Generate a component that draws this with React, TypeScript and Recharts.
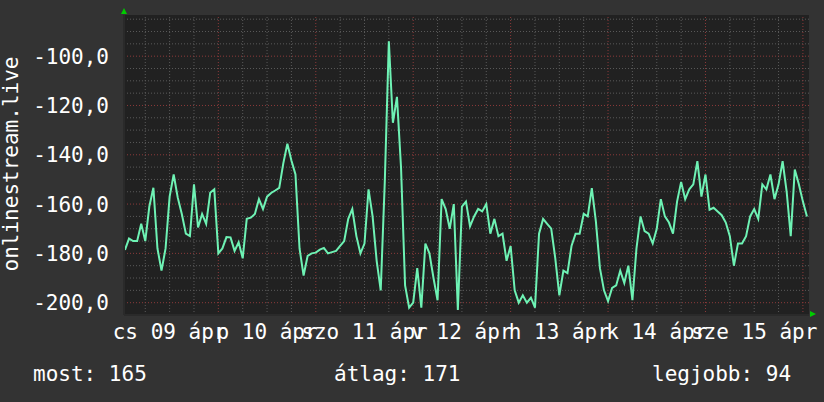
import { LineChart, Line, XAxis, YAxis, ReferenceLine, ReferenceArea } from "recharts";

// hourly samples, first sample at 09 ápr 01:00
const values = [
  -178.6, -174, -175, -175, -168, -175, -161, -153.4, -178, -187,
  -178, -157, -148, -157.4, -164, -172, -173, -152, -169.5, -164,
  -168, -155.4, -154, -180, -178, -173.4, -173.5, -179, -175.5, -182,
  -166, -165.5, -164, -158, -162, -157, -155.5, -154.5, -153.4, -143.5,
  -135.5, -142.3, -148, -178, -189, -181, -180, -179.7, -178.5, -177.8,
  -180, -179.5, -179, -177, -175, -166, -162, -173, -180, -176,
  -154, -165, -183, -195, -151, -94, -127, -116.5, -145, -193,
  -202, -200, -186, -202, -176, -180, -190, -199, -158, -162,
  -170, -160, -203, -161, -159, -169, -165, -162, -163, -160,
  -172, -166, -173, -172, -183, -177, -195, -200, -197, -200,
  -198, -202, -172, -166, -168, -170, -182, -197, -187, -188,
  -177, -172, -172, -164, -165, -153.5, -167, -186, -195, -199.4,
  -194, -193, -187, -192, -185, -199, -178, -165, -171, -172,
  -176, -170, -158, -165, -167.5, -172, -159, -151, -158, -154,
  -152, -142.6, -157, -148, -162.3, -161.5, -163, -164.5, -167.5, -173,
  -185, -176, -176, -173, -165, -162, -166, -152, -154, -148,
  -158, -152, -142.6, -155, -173, -146, -152, -159, -165,
];

const dayTicks = [12, 36, 60, 84, 108, 132, 156];
const dayLabels = ["cs 09 ápr", "p 10 ápr", "szo 11 ápr", "v 12 ápr", "h 13 ápr", "k 14 ápr", "sze 15 ápr"];
const yTicks = [-200, -180, -160, -140, -120, -100];
const majorX = [24, 48, 72, 96, 120, 144, 168];
const minorX = [6, 12, 18, 30, 36, 42, 54, 60, 66, 78, 84, 90, 102, 108, 114, 126, 132, 138, 150, 156, 162];
const majorY = [-200, -180, -160, -140, -120, -100];
const minorY = [-205, -195, -190, -185, -175, -170, -165, -155, -150, -145, -135, -130, -125, -115, -110, -105, -95, -90, -85];

const legend = [
  { text: "most: 165", x: 33 },
  { text: "átlag: 171", x: 334 },
  { text: "legjobb: 94", x: 652 },
];

const data = values.map((v, i) => ({ h: i + 1, v }));

const FONT = "DejaVu Sans Mono";
const X_DOMAIN = [0.76, 169.5];
const Y_DOMAIN = [-205, -83.3];

export default function App() {
  return (
    <div style={{ position: "absolute", left: 0, top: 0, width: 824, height: 402, background: "#333333" }}>
      <LineChart width={824} height={402} data={data} margin={{ top: 15, right: 15, left: 0, bottom: 57 }}>
        <XAxis
          dataKey="h"
          type="number"
          domain={X_DOMAIN}
          allowDataOverflow
          ticks={dayTicks}
          tickFormatter={(h: number) => dayLabels[dayTicks.indexOf(h)]}
          height={30}
          tickLine={false}
          tickSize={0}
          tickMargin={9}
          axisLine={{ stroke: "#2a2a2a", strokeWidth: 2 }}
          tick={{ fill: "#ffffff", fontSize: 21, fontFamily: FONT }}
          interval={0}
        />
        <YAxis
          type="number"
          domain={Y_DOMAIN}
          allowDataOverflow
          ticks={yTicks}
          width={124}
          tickLine={false}
          tickSize={0}
          tickMargin={15}
          axisLine={{ stroke: "#2a2a2a", strokeWidth: 2 }}
          tick={{ fill: "#ffffff", fontSize: 21, fontFamily: FONT }}
          tickFormatter={(v: number) => v.toFixed(1).replace(".", ",")}
          interval={0}
        />
        <ReferenceArea x1={X_DOMAIN[0]} x2={X_DOMAIN[1]} y1={Y_DOMAIN[0]} y2={Y_DOMAIN[1]} fill="#212121" fillOpacity={1} stroke="none" />
        {minorY.map((y) => (
          <ReferenceLine key={"my" + y} y={y} stroke="#5a5a5a" strokeDasharray="1 2" />
        ))}
        {minorX.map((x) => (
          <ReferenceLine key={"mx" + x} x={x} stroke="#5a5a5a" strokeDasharray="1 2" />
        ))}
        {majorY.map((y) => (
          <ReferenceLine key={"My" + y} y={y} stroke="#8c3a3a" strokeDasharray="1 2" />
        ))}
        {majorX.map((x) => (
          <ReferenceLine key={"Mx" + x} x={x} stroke="#8c3a3a" strokeDasharray="1 2" />
        ))}
        <Line
          dataKey="v"
          type="linear"
          stroke="#6ef2b4"
          strokeWidth={2}
          dot={false}
          isAnimationActive={false}
        />
      </LineChart>
      <svg width={824} height={402} style={{ position: "absolute", left: 0, top: 0, pointerEvents: "none" }}>
        <text
          x={18}
          y={164}
          transform="rotate(-90, 18, 164)"
          textAnchor="middle"
          fill="#ffffff"
          fontSize={21}
          fontFamily={FONT}
        >
          onlinestream.live
        </text>
        {legend.map((l) => (
          <text key={l.text} x={l.x} y={381} fill="#ffffff" fontSize={21} fontFamily={FONT}>
            {l.text}
          </text>
        ))}
        <polygon points="121,14 127,14 124,8" fill="#00cc00" />
        <polygon points="810,311 810,317 816,314" fill="#00cc00" />
      </svg>
    </div>
  );
}
